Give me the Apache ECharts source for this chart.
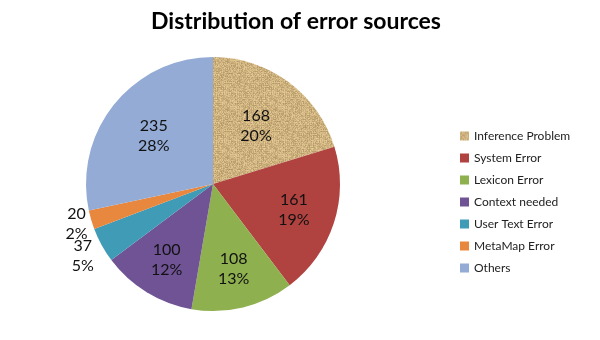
<!DOCTYPE html>
<html><head><meta charset="utf-8">
<script src="https://cdn.jsdelivr.net/npm/echarts@6/dist/echarts.min.js"></script>
<style>html,body{margin:0;padding:0;background:#fff}#c{width:600px;height:340px}</style>
</head><body><div id="c"></div>
<script>
const categories = ['Inference Problem','System Error','Lexicon Error','Context needed','User Text Error','MetaMap Error','Others'];
const counts = [168,161,108,100,37,20,235];
const percentLabels = ['20%','19%','13%','12%','5%','2%','28%'];

const colors = [null,'#b0423f','#8eb04f','#6f5395','#3f9bb6','#e8873e','#93abd5'];
// label distance from centre as fraction of radius (Excel best-fit look)
const labelRadiusFrac = [0.57,0.67,0.69,0.70,1.17,1.12,0.60];

function makeTexture(){
  const S = 48;
  const cv = document.createElement('canvas');
  cv.width = S; cv.height = S;
  const ctx = cv.getContext('2d');
  const img = ctx.createImageData(S,S);
  for (let y=0;y<S;y++){
    for (let x=0;x<S;x++){
      let h = (x*374761393 + y*668265263) ^ 0x5bd1e995;
      h = Math.imul(h ^ (h >>> 13), 1274126177);
      h = (h ^ (h >>> 16)) >>> 0;
      const n = (h % 1000)/1000;
      const weave = (x % 2 === 0 ? 5 : -3) + (y % 2 === 0 ? 3 : -3);
      const d = (n - 0.5) * 44 + weave;
      const i = (y*S+x)*4;
      img.data[i] = Math.max(0,Math.min(255,204 + d));
      img.data[i+1] = Math.max(0,Math.min(255,177 + d));
      img.data[i+2] = Math.max(0,Math.min(255,126 + d*0.9));
      img.data[i+3] = 255;
    }
  }
  ctx.putImageData(img,0,0);
  return cv;
}
const tex = {image: makeTexture(), repeat: 'repeat'};

const CX = 213, CY = 184, R = 127;
const font = 'Lato, "Open Sans", sans-serif';

const mainData = categories.map((n,i)=>({
  name: n, value: counts[i],
  itemStyle: {color: i===0 ? tex : colors[i]}
}));
const overlayData = categories.map((n,i)=>({name: n, value: counts[i]}));

const chart = echarts.init(document.getElementById('c'), null, {renderer:'canvas'});
chart.setOption({
  animation: false,
  title: {
    text: 'Distribution of error sources',
    left: 291, top: 5, textAlign: 'center',
    textStyle: {fontFamily: font, fontWeight: 'bold', fontSize: 23, color: '#000'}
  },
  legend: {
    orient: 'vertical', left: 455, top: 124,
    itemWidth: 9, itemHeight: 9, itemGap: 8,
    icon: 'rect',
    textStyle: {fontFamily: font, fontSize: 12, color: '#222', lineHeight: 14},
    data: categories
  },
  series: [
    {
      type: 'pie', center: [CX,CY], radius: R,
      startAngle: 90, clockwise: true,
      itemStyle: {borderWidth: 0},
      emphasis: {disabled: true},
      label: {show: false},
      labelLine: {show: false},
      data: mainData
    },
    {
      type: 'pie', center: [CX,CY], radius: [40,R],
      startAngle: 90, clockwise: true, silent: true, legendHoverLink: false,
      avoidLabelOverlap: false,
      itemStyle: {color: 'rgba(0,0,0,0)', borderWidth: 0},
      emphasis: {disabled: true},
      label: {
        position: 'inside',
        formatter: p => p.value + '\n' + percentLabels[p.dataIndex],
        fontFamily: font, fontSize: 16, color: '#111', lineHeight: 20, align: 'center'
      },
      labelLine: {show: false},
      labelLayout: function (params) {
        const r = params.labelRect;
        const lx = r.x + r.width/2, ly = r.y + r.height/2;
        const vx = lx - CX, vy = ly - CY;
        const len = Math.sqrt(vx*vx + vy*vy) || 1;
        const t = labelRadiusFrac[params.dataIndex] * R / len;
        return {dx: vx*t - vx, dy: vy*t - vy, hideOverlap: false};
      },
      data: overlayData
    }
  ]
});
</script></body></html>
